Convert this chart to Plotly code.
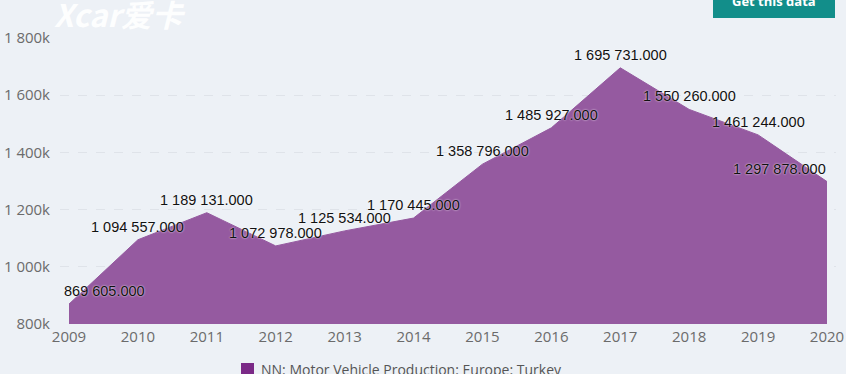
import plotly.graph_objects as go

years = [2009, 2010, 2011, 2012, 2013, 2014, 2015, 2016, 2017, 2018, 2019, 2020]
production = [869605, 1094557, 1189131, 1072978, 1125534, 1170445,
              1358796, 1485927, 1695731, 1550260, 1461244, 1297878]
series_name = "NN: Motor Vehicle Production: Europe: Turkey"
y_ticks = [800000, 1000000, 1200000, 1400000, 1600000, 1800000]
y_tick_labels = ["800k", "1 000k", "1 200k", "1 400k", "1 600k", "1 800k"]

def fmt(v):
    s = f"{v:,}".replace(",", " ")
    return s + ".000"

BG = "#edf1f6"
AREA = "#955aa0"
fig = go.Figure()
fig.add_trace(go.Scatter(
    x=years, y=production, mode="lines", name=series_name,
    line=dict(color=AREA, width=1),
    fill="tozeroy", fillcolor=AREA,
    hoverinfo="skip", showlegend=False,
))

def px_x(p):
    return (p - 60) / 776

def px_y(p):
    return (324 - p) / 286

annotations = []
for i, (x, v) in enumerate(zip(years, production)):
    if i == 0:
        xa, xs = "left", -7
    elif i == len(years) - 1:
        xa, xs = "right", 1
    else:
        xa, xs = "center", 0
    annotations.append(dict(
        x=x, y=v, xref="x", yref="y", text=fmt(v), showarrow=False,
        xanchor=xa, yanchor="bottom", xshift=xs, yshift=3,
        font=dict(family="Liberation Sans, Arial", size=14.5, color="#111111",
                  shadow="0px 0px 2px white"),
    ))

# "Get this data" button text
annotations.append(dict(
    x=px_x(774), y=px_y(1), xref="paper", yref="paper",
    text="<b>Get this data</b>", showarrow=False, xanchor="center", yanchor="middle",
    font=dict(family="Open Sans", size=13, color="white"),
))
# watermark
annotations.append(dict(
    x=px_x(52), y=px_y(14), xref="paper", yref="paper",
    text="<b><i>Xcar爱卡</i></b>", showarrow=False, xanchor="left", yanchor="middle",
    font=dict(family="Noto Sans CJK SC", size=31, color="rgba(255,255,255,0.95)"),
))
# legend text
annotations.append(dict(
    x=px_x(259), y=px_y(369), xref="paper", yref="paper",
    text=series_name, showarrow=False, xanchor="left", yanchor="middle",
    font=dict(family="Open Sans", size=14, color="#555555"),
))

fig.update_layout(
    width=846, height=374,
    margin=dict(l=60, r=10, t=38, b=50),
    paper_bgcolor=BG, plot_bgcolor=BG,
    annotations=annotations,
    showlegend=False,
    shapes=[
        dict(type="rect", xref="paper", yref="paper",
             x0=px_x(713), x1=px_x(835), y0=px_y(18), y1=px_y(-10),
             fillcolor="#128e8a", line=dict(width=0), layer="above"),
        dict(type="rect", xref="paper", yref="paper",
             x0=px_x(241), x1=px_x(254), y0=px_y(376), y1=px_y(363),
             fillcolor="#7b2a87", line=dict(width=0), layer="above"),
    ],
    xaxis=dict(
        range=[2009 - 9 / 68.9, 2020 + 9 / 68.9],
        tickmode="array", tickvals=years, ticktext=[str(y) for y in years],
        showgrid=False, zeroline=False, showline=False, automargin=False,
        tickfont=dict(family="Open Sans", size=15, color="#6b6b6b"),
        ticks="", ticklabelstandoff=2,
    ),
    yaxis=dict(
        range=[800000, 1800000],
        tickmode="array", tickvals=y_ticks, ticktext=y_tick_labels,
        showgrid=True, gridcolor="#dfe3e9", griddash="dash", gridwidth=1,
        zeroline=False, showline=False, automargin=False,
        tickfont=dict(family="Open Sans", size=15, color="#6b6b6b"),
        ticks="", ticklabelstandoff=9,
    ),
)

fig.write_html(
    "out.html",
    config={"displayModeBar": False},
    post_script="document.body.style.margin='0';document.body.style.overflow='hidden';",
)
